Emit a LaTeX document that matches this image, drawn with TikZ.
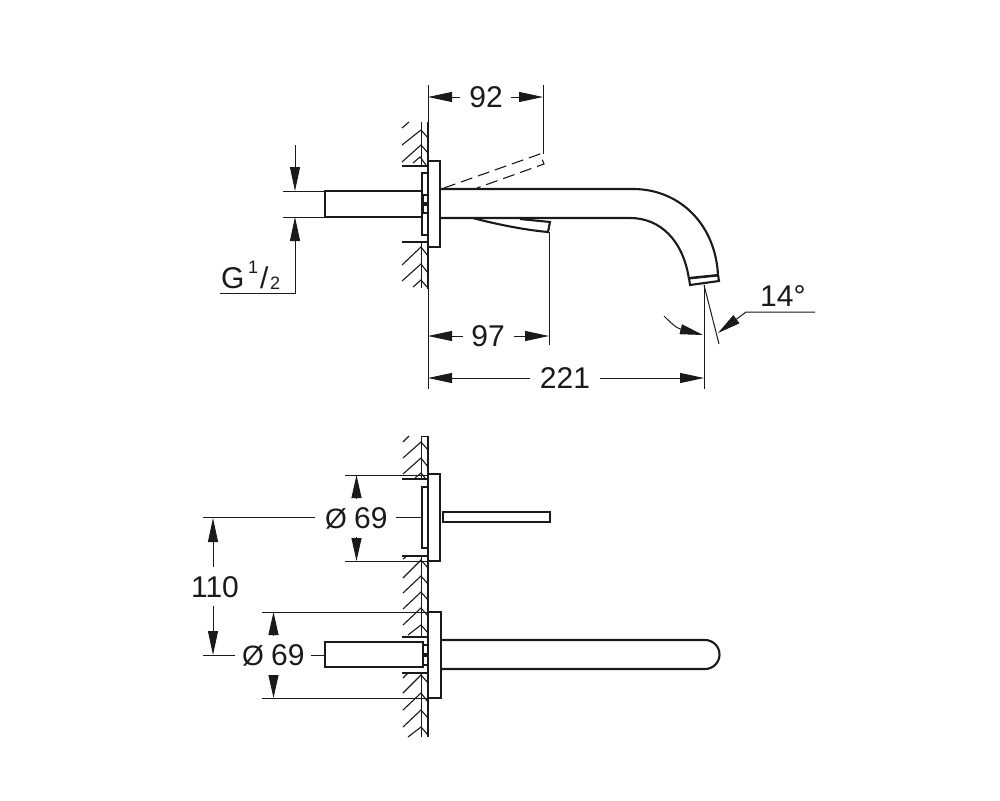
\documentclass[tikz,border=0pt]{standalone}
\usepackage{fontspec}
\setmainfont{Liberation Sans}
\usetikzlibrary{arrows.meta}
\definecolor{ink}{HTML}{1A1A1A}
\tikzset{
  thin line/.style={draw=ink,line width=1pt},
  thick line/.style={draw=ink,line width=2.1pt},
  heavy line/.style={draw=ink,line width=2.7pt},
  hatch line/.style={draw=ink,line width=1.1pt},
  dim/.style={draw=ink,line width=1pt,-{Triangle[length=24pt,width=10pt]}},
  short dim/.style={draw=ink,line width=1pt,-{Triangle[length=23pt,width=10pt]}},
  label/.style={text=ink,font=\fontsize{30}{30}\selectfont,inner sep=0pt},
  small label/.style={text=ink,font=\fontsize{18}{18}\selectfont,inner sep=0pt}
}
\begin{document}
\begin{tikzpicture}[x=1pt,y=-1pt,line cap=butt,line join=miter]
\path[fill=white,use as bounding box] (0,0) rectangle (1000,800);

% ---------- top view: wall
\draw[thick line] (428,122) -- (428,161);
\draw[thick line] (428,247) -- (428,289);
\draw[thin line] (421,122) -- (421,166);
\draw[thin line] (421,242) -- (421,288);
\draw[thick line] (402,166) -- (428,166);
\draw[thick line] (402,242) -- (428,242);
\foreach \a/\b/\c in {145/130/138,162/145/153}{
  \draw[hatch line] (402,\a) -- (421,\b) -- (428,\c);
}
\draw[hatch line] (402,128) -- (409,122);
\draw[hatch line] (413,163) -- (420,157) -- (426,165);
\draw[hatch line] (402,265) -- (421,247) -- (428,256);
\draw[hatch line] (402,281) -- (421,264) -- (428,273);
\draw[hatch line] (413,287) -- (421,280) -- (427,287);

% top view: flange, rod, spout
\draw[thick line] (428,161) rectangle (440,247);
\draw[thick line] (422,173) rectangle (428,235);
\draw[heavy line] (325,191) rectangle (422,217);
\draw[thick line] (423,195) rectangle (428,203);
\draw[thick line] (423,205) rectangle (428,213);
\draw[thick line] (441,189) -- (633,189) .. controls (680,189) and (716,225) .. (718,276);
\draw[thick line] (441,218) -- (630,218) .. controls (660,218) and (683,240) .. (689,279);
\draw[thick line] (689,278) -- (718,275) -- (719,281) -- (690,285) -- cycle;
\draw[thin line] (689,279) -- (718,276);
\draw[thick line] (473,218) .. controls (495,224) and (525,230) .. (548,232) -- (550,222) -- (520,219);
% dashed lever
\draw[hatch line,dashed,dash pattern=on 12pt off 6pt] (444,188) -- (540,154) -- (544,164) -- (477,188);

% ---------- top view: dimensions
\coordinate (d92a) at (428,97); \coordinate (d92b) at (543,97);
\node[label] (t92) at (486,97) {92};
\draw[thin line] (428,85) -- (428,389);
\draw[thin line] (543,85) -- (543,154);
\draw[dim] (460,97) -- (d92a);
\draw[dim] (511,97) -- (d92b);

\coordinate (d97a) at (428,336); \coordinate (d97b) at (549,336);
\node[label] (t97) at (488,336) {97};
\draw[thin line] (549,232) -- (549,345);
\draw[dim] (463,336) -- (d97a);
\draw[dim] (514,336) -- (d97b);

\coordinate (d221a) at (428,378); \coordinate (d221b) at (704,378);
\node[label] (t221) at (565,378) {221};
\draw[thin line] (704,285) -- (704,389);
\draw[dim] (530,378) -- (d221a);
\draw[dim] (600,378) -- (d221b);

% angle
\draw[thin line] (704,285) -- (719,344);
\draw[short dim] (664,316) .. controls (670,322) and (676,328) .. (703,335);
\draw[short dim] (815,312) -- (746,312) -- (718,333);
\node[label,anchor=base west] (t14) at (760,306) {14°};

% G 1/2
\draw[thin line] (283,191) -- (325,191);
\draw[thin line] (283,217) -- (325,217);
\draw[dim] (295,145) -- (295,191);
\draw[dim] (220,293) -- (295,293) -- (295,217);
\node[label,anchor=base west] (tg) at (221,288) {G};
\node[small label,anchor=base west] (tg1) at (248,273) {1};
\node[label,anchor=base west] (tgs) at (260,288) {/};
\node[small label,anchor=base west] (tg2) at (270,289) {2};

% ---------- bottom view: wall
\draw[thick line] (428,436) -- (428,737);
\draw[thin line] (421,436) -- (428,436);
\draw[thin line] (421,436) -- (421,479);
\draw[thin line] (421,556) -- (421,637);
\draw[thin line] (421,673) -- (421,737);
\draw[thick line] (402,479) -- (428,479);
\draw[thick line] (402,556) -- (428,556);
\draw[thick line] (402,637) -- (428,637);
\draw[thick line] (402,673) -- (428,673);
\draw[hatch line] (403,442) -- (409,436);
\draw[hatch line] (403,458) -- (421,442) -- (428,450);
\draw[hatch line] (403,474) -- (421,458) -- (428,467);
\draw[hatch line] (415,478) -- (421,473) -- (425,478);
\draw[hatch line] (403,578) -- (421,560) -- (428,568);
\draw[hatch line] (403,593) -- (421,576) -- (428,584);
\draw[hatch line] (403,609) -- (421,592) -- (428,600);
\draw[hatch line] (403,625) -- (421,608) -- (428,616);
\draw[hatch line] (408,635) -- (421,625) -- (428,633);
\draw[hatch line] (403,678) -- (408,673);
\draw[hatch line] (403,693) -- (421,675) -- (428,683);
\draw[hatch line] (403,710) -- (421,693) -- (428,702);
\draw[hatch line] (403,727) -- (421,710) -- (428,718);
\draw[hatch line] (408,737) -- (421,727) -- (428,735);
\draw[hatch line] (403,559) -- (407,556);

% bottom view: upper handle
\draw[thick line] (428,474) rectangle (440,561);
\draw[thick line] (422,487) rectangle (428,548);
\draw[thick line] (443,512) rectangle (550,522);

% bottom view: lower spout
\draw[thick line] (428,612) rectangle (441,698);
\draw[heavy line] (325,642) rectangle (423,667);
\draw[thick line] (423,645) rectangle (428,654);
\draw[thick line] (423,656) rectangle (428,665);
\draw[thick line] (441,640) -- (705,640) arc[start angle=-90,end angle=90,radius=14.5] -- (441,669);

% bottom view: dimensions
\draw[thin line] (345,475) -- (428,475);
\draw[thin line] (345,561) -- (428,561);
\draw[short dim] (356.5,499) -- (356.5,475);
\draw[short dim] (356.5,537) -- (356.5,561);
\node[label,anchor=base west] (ta) at (354,528) {69};
\node[label,anchor=base west,font=\fontsize{28}{28}\selectfont] (tad) at (325,528) {Ø};
\draw[thin line] (396,517.5) -- (422,517.5);

\draw[thin line] (203,517.5) -- (315,517.5);
\draw[thin line] (203,655) -- (235,655);
\node[label] (t110) at (215,587) {110};
\draw[dim] (213,567) -- (213,518);
\draw[dim] (213,606) -- (213,655);

\draw[thin line] (262,612) -- (428,612);
\draw[thin line] (262,698) -- (428,698);
\draw[short dim] (273.5,636) -- (273.5,612);
\draw[short dim] (273.5,675) -- (273.5,698);
\node[label,anchor=base west] (tb) at (271,665) {69};
\node[label,anchor=base west,font=\fontsize{28}{28}\selectfont] (tbd) at (242,665) {Ø};
\draw[thin line] (311,655) -- (325,655);
\end{tikzpicture}
\end{document}
